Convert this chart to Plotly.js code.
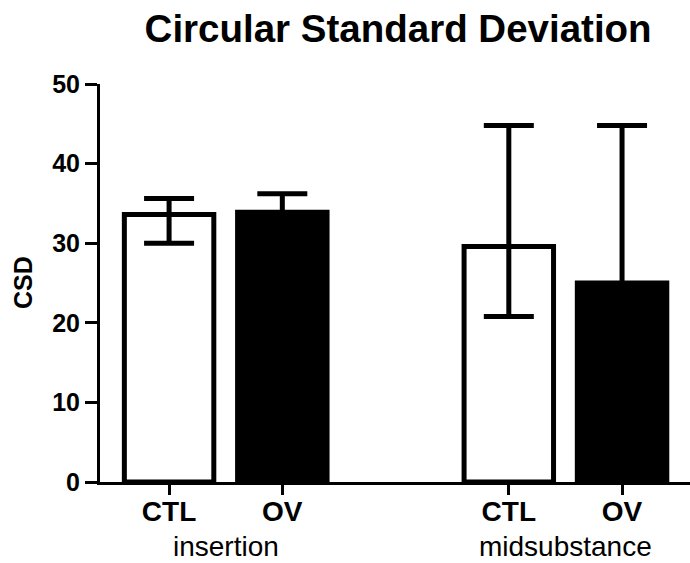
<!DOCTYPE html>
<html>
<head>
<meta charset="utf-8">
<script src="https://cdn.plot.ly/plotly-3.0.1.min.js"></script>
<style>html,body{margin:0;padding:0;background:#fff;}#chart{width:690px;height:563px;}</style>
</head>
<body>
<div id="chart"></div>
<script>
// Data
const categories = ["CTL", "OV", "CTL", "OV"];
const groups = ["insertion", "midsubstance"];
const positions = [0, 1, 3, 4];
const groupPositions = [0.5, 3.5];
const means = [33.6, 33.9, 29.6, 25.0];
const errPlus = [2.0, 2.3, 15.2, 19.8];
const errMinus = [3.6, 3.0, 8.8, 8.0];
const fills = ["#ffffff", "#000000", "#ffffff", "#000000"];
const yTicks = [0, 10, 20, 30, 40, 50];

const font = "Liberation Sans, Arial, sans-serif";

const trace = {
  type: "bar",
  x: positions,
  y: means,
  width: 0.79,
  marker: { color: fills, line: { color: "#000", width: 5 } },
  error_y: {
    type: "data", symmetric: false,
    array: errPlus, arrayminus: errMinus,
    color: "#000", thickness: 5, width: 25
  },
  hoverinfo: "skip"
};

const layout = {
  width: 690, height: 563,
  margin: { l: 100, r: 0, t: 84, b: 81 },
  paper_bgcolor: "#fff", plot_bgcolor: "#fff",
  showlegend: false,
  title: {
    text: "<b>Circular Standard Deviation</b>",
    font: { family: font, size: 38.5, color: "#000" },
    x: 0.577, xanchor: "center", y: 0.9485, yanchor: "middle"
  },
  xaxis: {
    range: [-0.61, 4.6],
    tickvals: positions,
    ticktext: categories.map(c => "<b>" + c + "</b>"),
    tickfont: { family: font, size: 28, color: "#000" },
    ticks: "outside", ticklen: 10, tickwidth: 3, tickcolor: "#000",
    ticklabelstandoff: -8,
    showline: true, linecolor: "#000", linewidth: 3,
    showgrid: false, zeroline: false, fixedrange: true
  },
  yaxis: {
    range: [0, 50],
    tickvals: yTicks,
    ticktext: yTicks.map(v => "<b>" + v + "</b>"),
    tickfont: { family: font, size: 25, color: "#000" },
    ticks: "outside", ticklen: 12, tickwidth: 3, tickcolor: "#000",
    showline: true, linecolor: "#000", linewidth: 3,
    showgrid: false, zeroline: false, fixedrange: true
  },
  annotations: groups.map((g, i) => ({
    text: g, x: groupPositions[i], xref: "x", y: 0, yref: "paper",
    yshift: -64, showarrow: false, yanchor: "middle",
    font: { family: font, size: 28, color: "#000" }
  })).concat([{
    text: "<b>CSD</b>", x: 0, xref: "paper", y: 0.5, yref: "paper",
    xshift: -77, textangle: -90, showarrow: false,
    xanchor: "center", yanchor: "middle",
    font: { family: font, size: 25, color: "#000" }
  }])
};

Plotly.newPlot("chart", [trace], layout, { displayModeBar: false, staticPlot: true });
</script>
</body>
</html>
